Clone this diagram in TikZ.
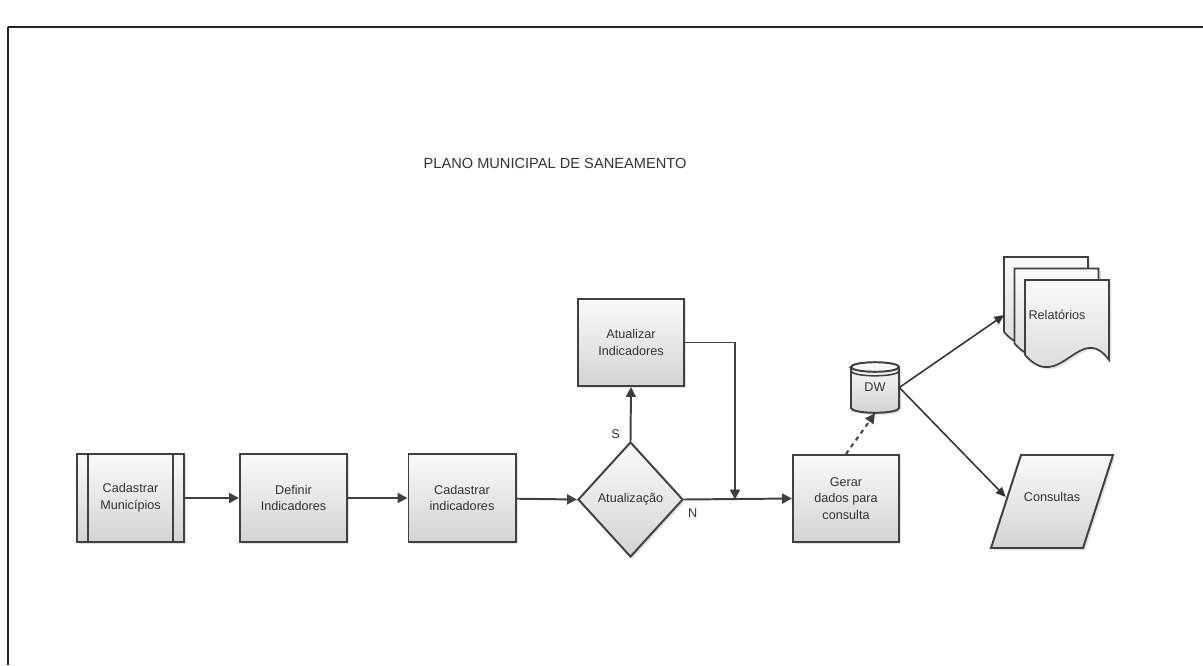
\documentclass[tikz,border=0pt]{standalone}
\usepackage{fontspec}
\setmainfont{Liberation Sans}
\usetikzlibrary{shapes.geometric,arrows.meta,shadows}

\tikzset{
  docpage/.pic={
    \path[docfill] (0,0) -- (84,0) -- (84,80) .. controls (55,40) and (35,115) .. (0,75) -- cycle;
  }
}

\begin{document}
\begin{tikzpicture}[x=0.025cm,y=-0.025cm,
  every node/.style={inner sep=0pt, text=black!80, font=\fontsize{9}{11.8}\selectfont, align=center},
  shaded/.style={draw=black!75, line width=1.4pt, top color=gray!4, bottom color=gray!34,
    drop shadow={shadow xshift=1.6pt, shadow yshift=-1.6pt, opacity=0.22}},
  docfill/.style={shaded, line width=1.2pt},
  box/.style={rectangle, shaded, minimum width=2.675cm, minimum height=2.2cm},
  decision/.style={diamond, shaded, minimum width=2.625cm, minimum height=2.875cm},
  arr/.style={draw=black!75, line width=1.4pt, -{Triangle[length=7pt,width=7pt]}},
  thinarr/.style={draw=black!80, line width=1.1pt, -{Triangle[length=7pt,width=6pt]}},
  dotarr/.style={arr, dash pattern=on 3pt off 3pt},
  title/.style={font=\fontsize{10.4}{12}\selectfont}]
\useasboundingbox (0,0) rectangle (1203,665);
\draw [black!85, line width=1.3pt] (7.5,27) -- (1203,27);
\draw [black!85, line width=0.8pt] (8,27) -- (8,665);
\node [title] (plano) at (555,163) {PLANO MUNICIPAL DE SANEAMENTO};
\node [box] (cadmun) at (130.5,498) {Cadastrar\\Municípios};
\draw [draw=black!75, line width=1.4pt] ([xshift=0.3cm]cadmun.north west) -- ([xshift=0.3cm]cadmun.south west);
\draw [draw=black!75, line width=1.4pt] ([xshift=-0.3cm]cadmun.north east) -- ([xshift=-0.3cm]cadmun.south east);
\node [box] (defind) at (293.5,498) {Definir\\Indicadores};
\node [box] (cadind) at (462,498) {Cadastrar\\indicadores};
\node [decision] (atu) at (630.5,499.5) {Atualização};
\node [box, minimum width=2.65cm, minimum height=2.175cm] (atuind) at (631,342.5) {Atualizar\\Indicadores};
\node [box, minimum width=2.65cm, minimum height=2.175cm] (gerar) at (846,498.5) {Gerar\\dados para\\consulta};
\path [shaded] (851,367) -- (851,408) arc[start angle=180,end angle=360,x radius=0.6cm,y radius=0.12cm]
  -- (899,367) arc[start angle=0,end angle=180,x radius=0.6cm,y radius=0.12cm] -- cycle;
\draw [black!75, line width=1.4pt] (851,367) arc[start angle=180,end angle=360,x radius=0.6cm,y radius=0.12cm];
\draw [black!75, line width=1.1pt] (851,371) arc[start angle=180,end angle=360,x radius=0.6cm,y radius=0.12cm];
\node [minimum width=1.2cm, minimum height=1.275cm] (dw) at (875,387.5) {DW};
\pic at (1004,257) {docpage};
\pic at (1014.5,268.5) {docpage};
\pic at (1025,280) {docpage};
\node [minimum width=2.625cm] (rel) at (1057,315) {Relatórios};
\path [shaded] (1021,455) -- (1113,455) -- (1083,548) -- (991,548) -- cycle;
\node [minimum width=2.3cm, minimum height=0.4cm] (cons) at (1052,497) {Consultas};
\coordinate (junc) at (735,499.5);
\draw [arr] (cadmun) -- (defind);
\draw [arr] (defind) -- (cadind);
\draw [arr] (cadind) -- (atu.west);
\draw [arr] (atu.north) -- node [pos=0.12, left=7pt] {S} (atuind.south);
\draw [arr] (atu.east) -- node [pos=0.08, below=6pt] {N} (gerar.west);
\draw [arr] (atuind.east) -| (junc);
\draw [dotarr] (gerar.north) -- (dw.south);
\draw [thinarr] (dw.east) -- (rel.west);
\draw [thinarr] (dw.east) -- (cons.west);
\end{tikzpicture}
\end{document}
